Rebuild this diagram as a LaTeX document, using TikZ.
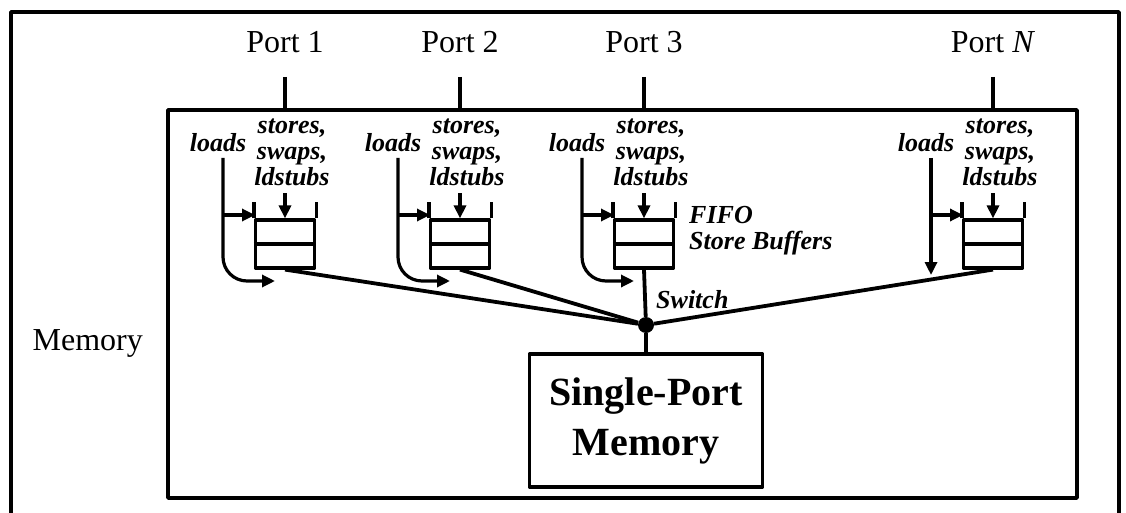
\documentclass[tikz,border=0pt]{standalone}
\usepackage{fontspec}
\setmainfont{Liberation Serif}
\usetikzlibrary{arrows.meta}
\begin{document}
\begin{tikzpicture}[x=1pt,y=-1pt,line join=round,
  frame/.style={line width=3.4pt},
  wire/.style={line width=3.2pt},
  bus/.style={line width=3.8pt},
  arr/.style={wire,-{Triangle[length=13pt,width=12pt]}},
  lab/.style={font=\fontsize{26}{26}\selectfont\bfseries\itshape,inner sep=0pt,align=center},
  portlab/.style={font=\fontsize{32}{34}\selectfont,inner sep=0pt},
  cell/.style={draw,line width=3.2pt,minimum width=59pt,minimum height=48pt,inner sep=0pt}]
\useasboundingbox (0,0) rectangle (1126,513);
% outer frame (open at the bottom)
\draw[frame] (11,513) -- (11,12) -- (1119,12) -- (1119,513);
\node[portlab,anchor=east] (memlab) at (143,343) {Memory};
% memory module
\node[draw,frame,minimum width=909pt,minimum height=388pt,inner sep=0pt] (module) at (622.5,304) {};
% switch point and single-port memory
\node[circle,fill,minimum size=16pt,inner sep=0pt] (sw) at (646,325) {};
\node[draw,frame,minimum width=233pt,minimum height=133pt,inner sep=0pt,align=center,
      font=\fontsize{40}{50}\selectfont\bfseries] (spm) at (646,420.5) {Single-Port\\Memory};
\draw[bus] (sw) -- (spm.north);
\node[lab,anchor=west] (swlab) at (656,300) {Switch};
\node[lab,anchor=west,align=left] (fifo) at (689,231) {FIFO\\Store Buffers};
% ports with their store buffers
\foreach \n/\bx/\lab in {1/285/{Port 1},2/460/{Port 2},3/644/{Port 3},N/993/{Port \textit{N}}}{
  \node[portlab] (port\n) at (\bx,42) {\lab};
  \draw[wire] (\bx,77) -- (\bx,110);
  \node[cell] (buf\n) at (\bx,244) {};
  \draw[wire] (buf\n.west) -- (buf\n.east);
  \draw[wire] (buf\n.north west) -- ++(0,-16);
  \draw[wire] (buf\n.north east) -- ++(0,-16);
  \node[lab] (st\n) at (\bx+7,152) {stores,\\swaps,\\ldstubs};
  \draw[arr] (\bx,193) -- (buf\n.north);
  \node[lab] (ld\n) at (\bx-67,143) {loads};
  \draw[arr] (\bx-62,215) -- (\bx-30,215);
  \draw[bus] (buf\n.south) -- (sw);
}
% load paths that bypass the buffer
\foreach \bx in {285,460,644}{
  \draw[arr,rounded corners=24pt] (\bx-62,158) -- (\bx-62,281) -- (\bx-10,281);
}
\draw[arr] (993-62,158) -- (993-62,275);
\end{tikzpicture}
\end{document}
